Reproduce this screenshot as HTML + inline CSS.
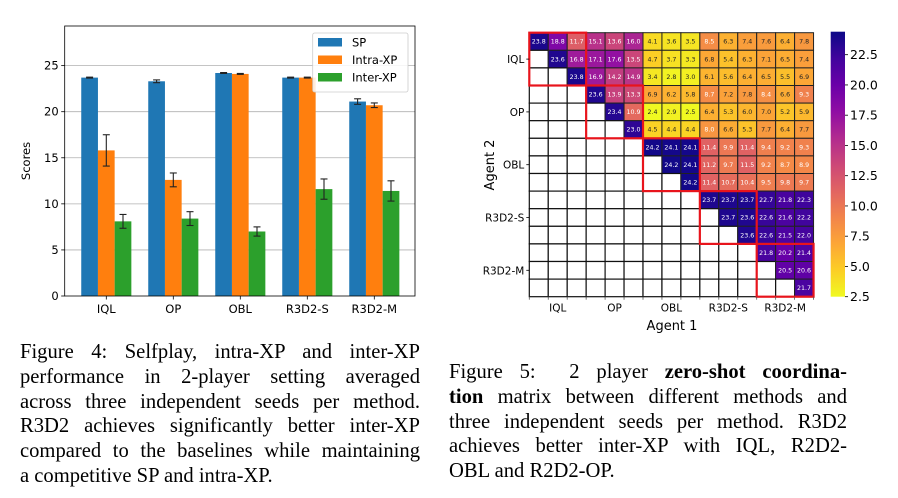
<!DOCTYPE html>
<html><head><meta charset="utf-8">
<style>
body{margin:0;background:#fff;width:898px;height:498px;overflow:hidden;position:relative;font-family:"Liberation Sans","DejaVu Sans",sans-serif}
svg{position:absolute;left:0;top:0}
.cap{position:absolute;font-family:"Liberation Serif",serif;font-size:20.6px;color:#000}
.cap div{height:24.8px;line-height:24.8px;text-align:justify;text-align-last:justify;white-space:nowrap}
.cap div.last{text-align-last:left}
.cap div span.j{display:block;text-align:justify;text-align-last:justify;white-space:normal}
</style></head><body>
<svg id="svg" width="898" height="498" xmlns="http://www.w3.org/2000/svg" font-family="DejaVu Sans, Liberation Sans, sans-serif"></svg>

<div class="cap" style="left:20px;top:340px;width:400px">
<div><span class="j">Figure 4: Selfplay, intra-XP and inter-XP</span></div>
<div><span class="j">performance in 2-player setting averaged</span></div>
<div><span class="j">across three independent seeds per method.</span></div>
<div><span class="j">R3D2 achieves significantly better inter-XP</span></div>
<div><span class="j">compared to the baselines while maintaining</span></div>
<div class="last">a competitive SP and intra-XP.</div>
</div>
<div class="cap" style="left:449px;top:360px;width:398px">
<div><span class="j">Figure 5: &nbsp;2 player <b>zero-shot coordina-</b></span></div>
<div><span class="j"><b>tion</b> matrix between different methods and</span></div>
<div><span class="j">three independent seeds per method. R3D2</span></div>
<div><span class="j">achieves better inter-XP with IQL, R2D2-</span></div>
<div class="last">OBL and R2D2-OP.</div>
</div>

<script>
const categories = ["IQL","OP","OBL","R3D2-S","R3D2-M"];
const spValues = [23.7, 23.3, 24.2, 23.7, 21.1];
const spErrors = [0.05, 0.15, 0.05, 0.05, 0.3];
const intraValues = [15.8, 12.6, 24.1, 23.7, 20.7];
const intraErrors = [1.7, 0.75, 0.05, 0.05, 0.25];
const interValues = [8.1, 8.4, 7.0, 11.6, 11.4];
const interErrors = [0.75, 0.75, 0.5, 1.1, 1.1];
const yTicks = [0,5,10,15,20,25];
const seriesNames = ["SP","Intra-XP","Inter-XP"];

const agentLabels = ["IQL","OP","OBL","R3D2-S","R3D2-M"];
const matrixRows = [
 [23.8,18.8,11.7,15.1,13.6,16.0,4.1,3.6,3.5,8.5,6.3,7.4,7.6,6.4,7.8],
 [23.6,16.8,17.1,17.6,13.5,4.7,3.7,3.3,6.8,5.4,6.3,7.1,6.5,7.4],
 [23.8,16.9,14.2,14.9,3.4,2.8,3.0,6.1,5.6,6.4,6.5,5.5,6.9],
 [23.6,13.9,13.3,6.9,6.2,5.8,8.7,7.2,7.8,8.4,6.6,9.3],
 [23.4,10.9,2.4,2.9,2.5,6.4,5.3,6.0,7.0,5.2,5.9],
 [23.0,4.5,4.4,4.4,8.0,6.6,5.3,7.7,6.4,7.7],
 [24.2,24.1,24.1,11.4,9.9,11.4,9.4,9.2,9.3],
 [24.2,24.1,11.2,9.7,11.5,9.2,8.7,8.9],
 [24.2,11.4,10.7,10.4,9.5,9.8,9.7],
 [23.7,23.7,23.7,22.7,21.8,22.3],
 [23.7,23.6,22.6,21.6,22.2],
 [23.6,22.6,21.5,22.0],
 [21.8,20.2,21.4],
 [20.5,20.6],
 [21.7]
];
const cbTicks = [2.5,5.0,7.5,10.0,12.5,15.0,17.5,20.0,22.5];

const NS="http://www.w3.org/2000/svg";
const svg=document.getElementById('svg');
function mk(tag,attrs,parent){const e=document.createElementNS(NS,tag);for(const k in attrs)e.setAttribute(k,attrs[k]);(parent||svg).appendChild(e);return e;}

// ---------- bar chart ----------
const bx0=64.7,bx1=415,by0=26,by1=296,yMax=29.3;
const yScale=v=>by1-(v/yMax)*(by1-by0);
const groupStep=67, firstCenter=106.3, barW=16.7;
const xCenter=i=>firstCenter+i*groupStep;
const colors=["#1f77b4","#ff7f0e","#2ca02c"];
const bars=mk('g',{});


yTicks.forEach(t=>{
  const y=yScale(t);
  if(t>0){const gl=mk('line',{x1:bx0,x2:bx1,y1:y,y2:y,stroke:'#b0b0b0','stroke-width':0.8},bars);
  }
  const tk=mk('line',{x1:bx0-3.5,x2:bx0,y1:y,y2:y,stroke:'#000','stroke-width':0.8},bars);
  
  const tl=mk('text',{x:bx0-6,y:y+4,'text-anchor':'end','font-size':11.5,fill:'#000'},bars);
  tl.textContent=t;
  
});
const allVals=[spValues,intraValues,interValues], allErr=[spErrors,intraErrors,interErrors];
categories.forEach((c,i)=>{
  for(let s=0;s<3;s++){
    const x=xCenter(i)+(s-1)*barW-barW/2, v=allVals[s][i];
    const r=mk('rect',{x:x,y:yScale(v),width:barW,height:by1-yScale(v),fill:colors[s]},bars);
    
    
    const e=allErr[s][i], cx=x+barW/2;
    const eg=mk('g',{stroke:'#222','stroke-width':1.1},bars);
    
    mk('line',{x1:cx,x2:cx,y1:yScale(v+e),y2:yScale(v-e)},eg);
    mk('line',{x1:cx-3.5,x2:cx+3.5,y1:yScale(v+e),y2:yScale(v+e)},eg);
    mk('line',{x1:cx-3.5,x2:cx+3.5,y1:yScale(v-e),y2:yScale(v-e)},eg);
  }
  const tk=mk('line',{x1:xCenter(i),x2:xCenter(i),y1:by1,y2:by1+3.5,stroke:'#000','stroke-width':0.8},bars);
  
  const tl=mk('text',{x:xCenter(i),y:by1+17,'text-anchor':'middle','font-size':11.5},bars);
  tl.textContent=c;
  
});
const frame=mk('rect',{x:bx0,y:by0,width:bx1-bx0,height:by1-by0,fill:'none',stroke:'#000','stroke-width':0.8},bars);

const yt=mk('text',{x:0,y:0,'text-anchor':'middle','font-size':11.5,transform:'translate(30,161) rotate(-90)'},bars);
yt.textContent='Scores';

// legend
const lg=mk('g',{},bars);

mk('rect',{x:312.7,y:33,width:95.3,height:59,rx:2,fill:'#fff','fill-opacity':0.85,stroke:'#ccc','stroke-width':0.8},lg);
seriesNames.forEach((n,s)=>{
  const y=38+s*17.5;
  const sw=mk('rect',{x:318,y:y,width:24,height:8.5,fill:colors[s]},lg);
  
  const t=mk('text',{x:352,y:y+8.5,'font-size':11.5},lg);
  t.textContent=n;
  
});

// ---------- heatmap ----------
const hx0=529.3,hy0=32.7,cw=18.95,ch=17.6,N=15;
const vmin=2.5,vmax=24.4;
const plasma=[[13,8,135],[65,4,157],[106,0,168],[143,13,164],[177,42,144],[204,71,120],[225,100,98],[242,132,75],[252,166,54],[252,206,37],[240,249,33]];
function cmap(v){
  let t=1-(v-vmin)/(vmax-vmin);t=Math.max(0,Math.min(1,t));
  const p=t*10,i=Math.min(9,Math.floor(p)),f=p-i,a=plasma[i],b=plasma[i+1];
  return 'rgb('+a.map((c,k)=>Math.round(c+(b[k]-c)*f)).join(',')+')';
}
const hm=mk('g',{});

for(let r=0;r<N;r++){
  for(let c=0;c<N;c++){
    const x=hx0+c*cw,y=hy0+r*ch;
    const off=c-r;
    if(off>=0){
      const v=matrixRows[r][off];
      const cell=mk('rect',{x:x,y:y,width:cw,height:ch,fill:cmap(v),stroke:'#222','stroke-width':1},hm);
      
      const t=mk('text',{x:x+cw/2,y:y+ch/2+2.2,'text-anchor':'middle','font-size':6.3,fill:v>=8?'#fff':'#222'},hm);
      t.textContent=v.toFixed(1);
      
    } else {
      const cell=mk('rect',{x:x,y:y,width:cw,height:ch,fill:'#fff',stroke:'#111','stroke-width':1.2},hm);
      
    }
  }
}
for(let b=0;b<5;b++){
  const rb=mk('rect',{x:hx0+b*3*cw,y:hy0+b*3*ch,width:3*cw,height:3*ch,fill:'none',stroke:'#e8141c','stroke-width':2.2},hm);
  
}
agentLabels.forEach((a,i)=>{
  const yc=hy0+(i*3+1.5)*ch, xc=hx0+(i*3+1.5)*cw;
  const t1=mk('text',{x:hx0-5,y:yc+4,'text-anchor':'end','font-size':10.5},hm);
  t1.textContent=a;
  
  mk('line',{x1:hx0-3,x2:hx0,y1:yc,y2:yc,stroke:'#000','stroke-width':0.8},hm);
  const t2=mk('text',{x:xc,y:hy0+N*ch+15,'text-anchor':'middle','font-size':10.5},hm);
  t2.textContent=a;
  
});
for(let c=0;c<=N;c++){
  const x=hx0+c*cw;
  mk('line',{x1:x,x2:x,y1:hy0+N*ch,y2:hy0+N*ch+3,stroke:'#555','stroke-width':0.8},hm);
}
const ax1=mk('text',{x:672,y:330,'text-anchor':'middle','font-size':13},hm);
ax1.textContent='Agent 1';

const ax2=mk('text',{x:0,y:0,'text-anchor':'middle','font-size':13,transform:'translate(494,165) rotate(-90)'},hm);
ax2.textContent='Agent 2';


// colorbar
const cbx=830.7,cbw=14.3,cbTop=31.7,cbBot=296.7;
const cbScale=v=>cbBot-(v-vmin)/(vmax-vmin)*(cbBot-cbTop);
const defs=mk('defs',{});
const grad=mk('linearGradient',{id:'cbg',x1:0,y1:1,x2:0,y2:0},defs);
for(let k=0;k<=10;k++){const v=vmin+(vmax-vmin)*k/10;mk('stop',{offset:k/10,'stop-color':cmap(v)},grad);}
const cb=mk('g',{});

mk('rect',{x:cbx,y:cbTop,width:cbw,height:cbBot-cbTop,fill:'url(#cbg)'},cb);
cbTicks.forEach(t=>{
  const y=cbScale(t);
  mk('line',{x1:cbx+cbw,x2:cbx+cbw+3,y1:y,y2:y,stroke:'#000','stroke-width':0.8},cb);
  const tl=mk('text',{x:cbx+cbw+5,y:y+4.5,'font-size':12.5},cb);
  tl.textContent=t.toFixed(1);
  
});
</script>
</body></html>
